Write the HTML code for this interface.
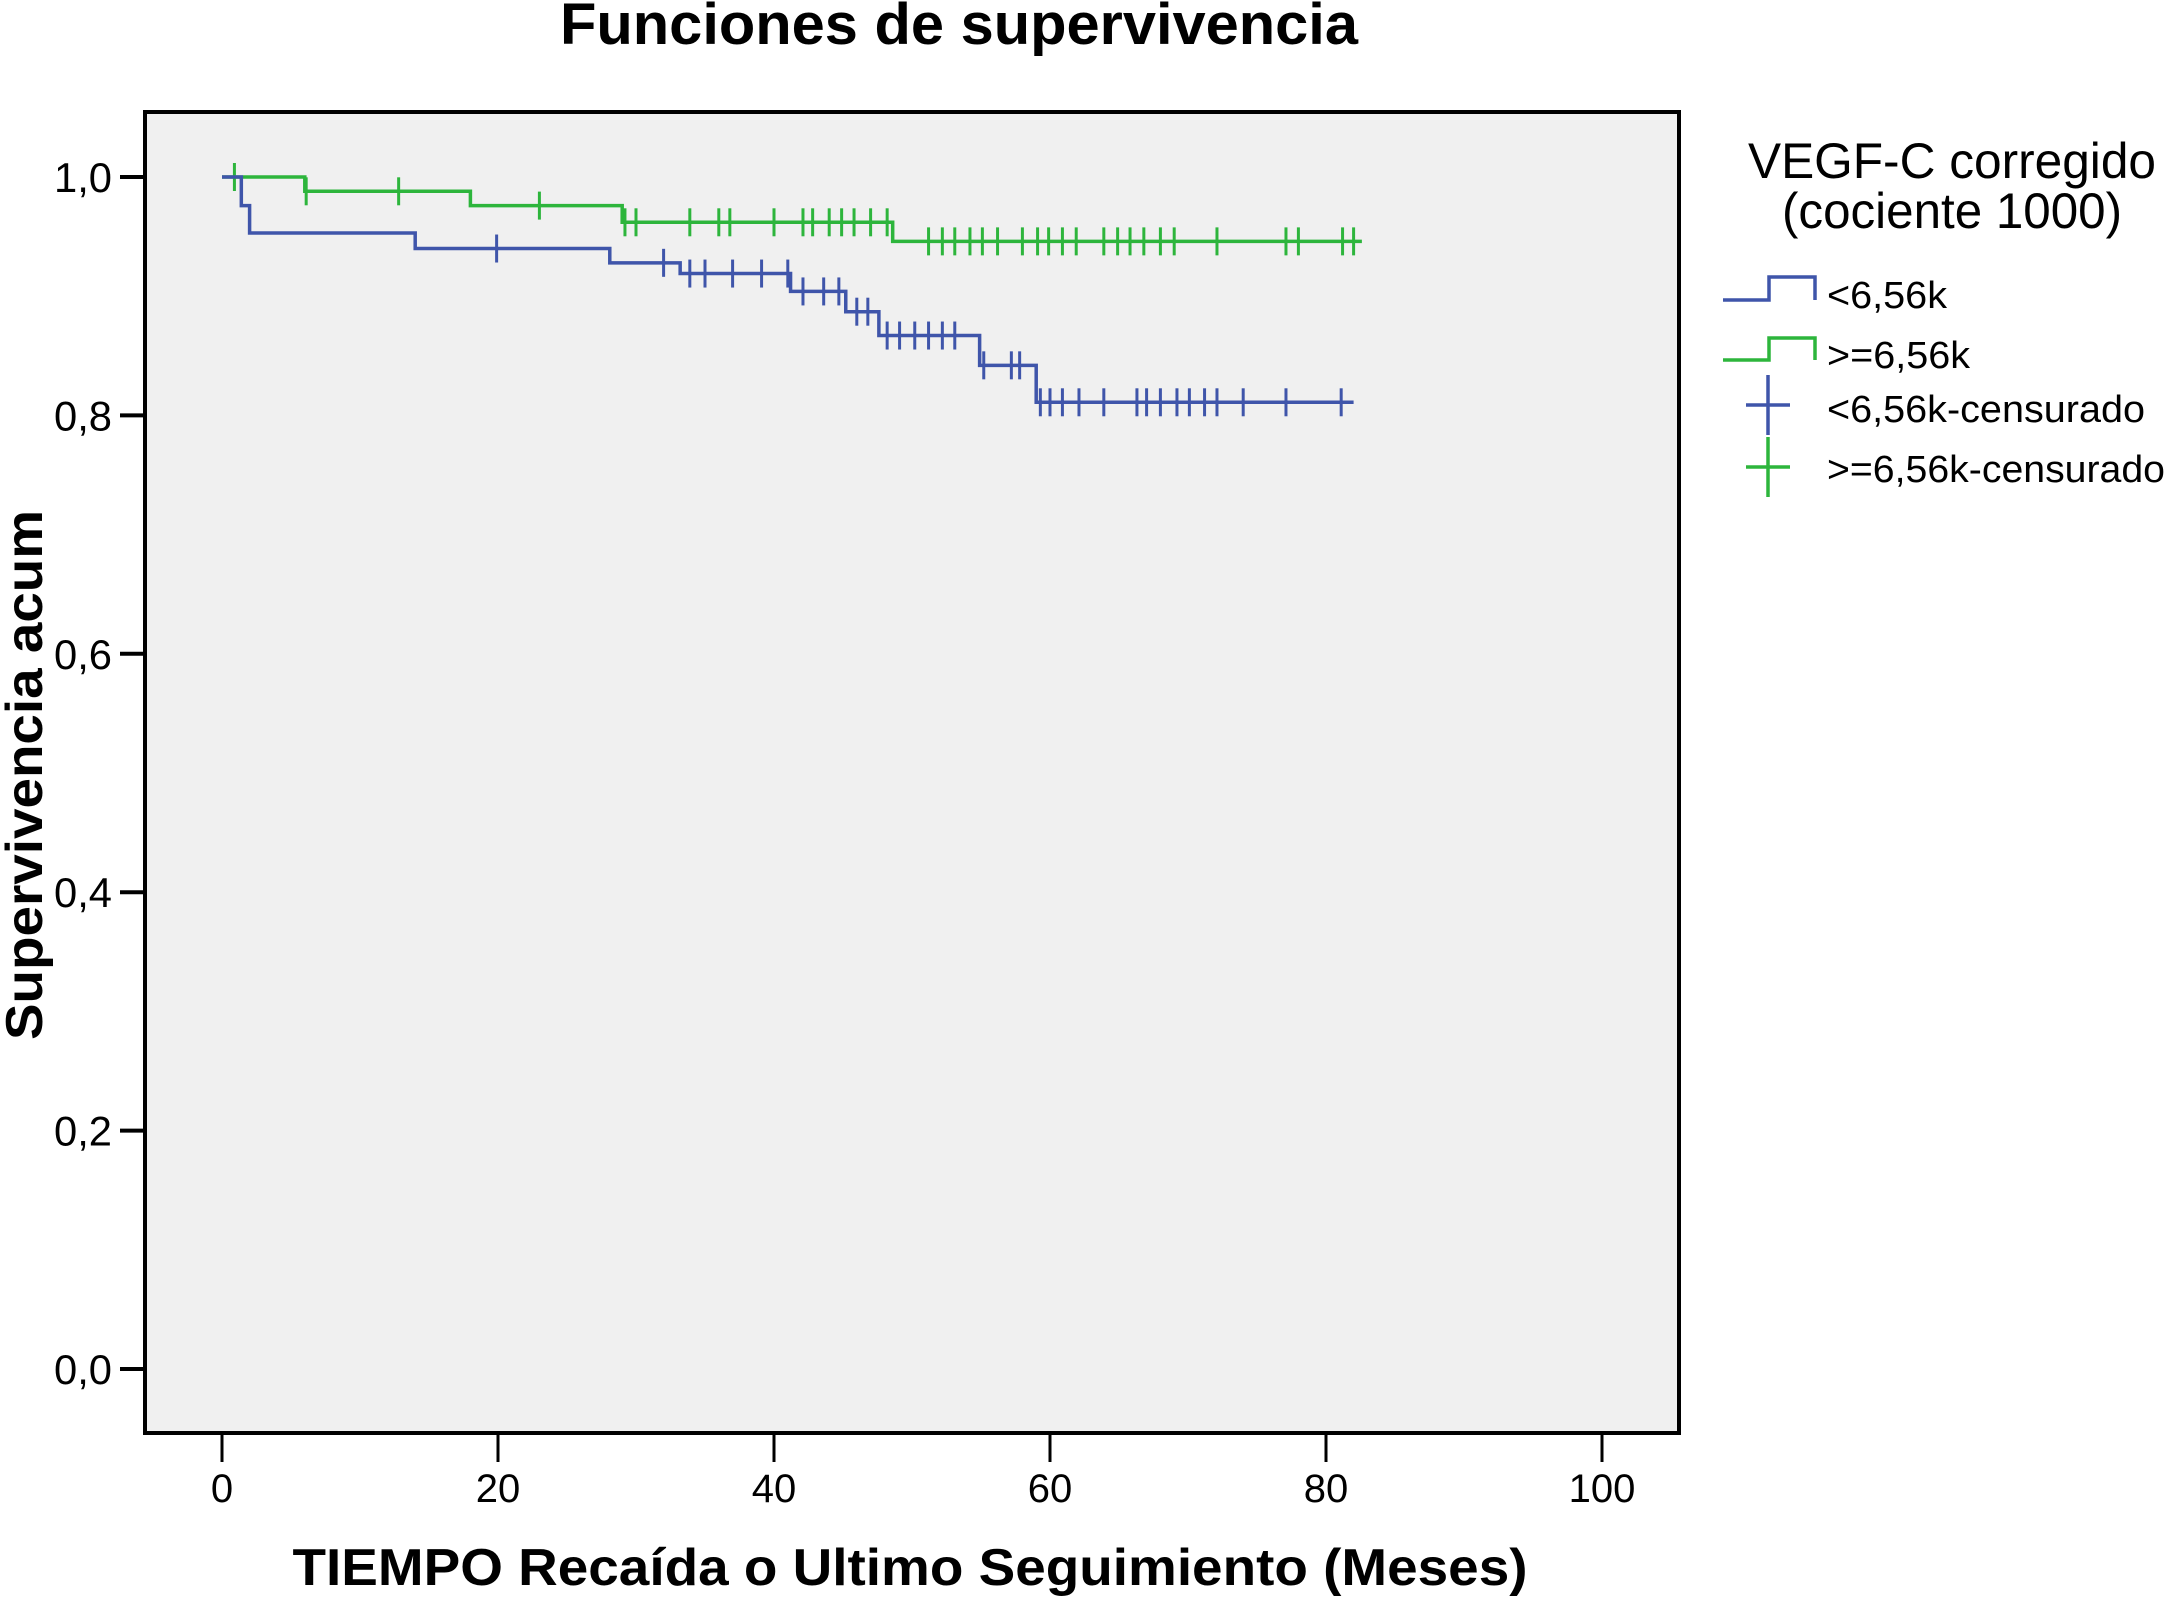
<!DOCTYPE html>
<html><head><meta charset="utf-8"><style>
html,body{margin:0;padding:0;background:#fff;}
svg{display:block;font-family:"Liberation Sans",Arial,sans-serif;}
</style></head><body>
<svg id="chart" width="2167" height="1597" viewBox="0 0 2167 1597" xmlns="http://www.w3.org/2000/svg">
<text x="959" y="44" text-anchor="middle" font-size="58" font-weight="bold" textLength="798" lengthAdjust="spacingAndGlyphs">Funciones de supervivencia</text>
<rect x="145" y="112" width="1534" height="1321" fill="#f0f0f0" stroke="#000" stroke-width="4"/>
<g id="axes"></g>
<g id="series"></g>
<text x="910" y="1585" text-anchor="middle" font-size="52" font-weight="bold" textLength="1235" lengthAdjust="spacingAndGlyphs">TIEMPO Recaída o Ultimo Seguimiento (Meses)</text>
<text transform="translate(42,775) rotate(-90)" text-anchor="middle" font-size="52" font-weight="bold" textLength="530" lengthAdjust="spacingAndGlyphs">Supervivencia acum</text>
<g>
<text x="1952" y="178" text-anchor="middle" font-size="50" textLength="408" lengthAdjust="spacingAndGlyphs">VEGF-C corregido</text>
<text x="1952" y="228" text-anchor="middle" font-size="50" textLength="340" lengthAdjust="spacingAndGlyphs">(cociente 1000)</text>
<path d="M1723 300 H1769 V277 H1815 V300" fill="none" stroke="#3f55aa" stroke-width="3.5"/>
<text x="1827" y="308" font-size="38" textLength="120" lengthAdjust="spacingAndGlyphs">&lt;6,56k</text>
<path d="M1723 360 H1769 V338 H1815 V360" fill="none" stroke="#2db53c" stroke-width="3.5"/>
<text x="1827" y="368" font-size="38" textLength="143" lengthAdjust="spacingAndGlyphs">&gt;=6,56k</text>
<path d="M1746 405 H1790 M1768 375 V435" stroke="#3f55aa" stroke-width="3.5"/>
<text x="1827" y="422" font-size="38" textLength="318" lengthAdjust="spacingAndGlyphs">&lt;6,56k-censurado</text>
<path d="M1746 467 H1790 M1768 437 V497" stroke="#2db53c" stroke-width="3.5"/>
<text x="1827" y="482" font-size="38" textLength="338" lengthAdjust="spacingAndGlyphs">&gt;=6,56k-censurado</text>
</g>
</svg>
<script>
const xTicks=[0,20,40,60,80,100];
const yTicks=[0,0.2,0.4,0.6,0.8,1.0];
const yTickLabels=["0,0","0,2","0,4","0,6","0,8","1,0"];
const blueTimes=[0,1.4,2,14,28.1,33.2,41.2,45.2,47.6,54.9,59];
const blueSurv=[1.0,0.976,0.953,0.940,0.928,0.919,0.904,0.887,0.867,0.842,0.811];
const blueEnd=82;
const blueCens=[19.9,32,33.9,35,37,39.1,41,42.1,43.6,44.7,46,46.8,48.2,49.1,50.2,51.2,52.2,53.1,55.2,57.2,57.8,59.3,60,60.9,62.1,63.9,66.3,67,68,69.2,70.1,71.2,72.1,74,77.1,81.1];
const greenTimes=[0,6,18,29,48.6];
const greenSurv=[1.0,0.988,0.976,0.962,0.946];
const greenEnd=82.6;
const greenCens=[0.9,6.1,12.8,23,29.2,30,33.9,36,36.8,40,42.1,42.8,44,44.9,45.8,47,48.2,51.2,52.2,53.1,54.2,55.1,56.2,58,59.1,59.9,60.9,61.9,63.9,64.9,65.8,66.8,68,69,72.1,77.1,78,81.2,82];
const NS='http://www.w3.org/2000/svg';
const X=t=>222+t*13.8;
const Y=s=>1369-s*1192;
function mk(tag,attrs,parent){const e=document.createElementNS(NS,tag);for(const k in attrs)e.setAttribute(k,attrs[k]);parent.appendChild(e);return e;}
const axes=document.getElementById('axes');
xTicks.forEach(t=>{
 const l=mk('line',{x1:X(t),x2:X(t),y1:1433,y2:1462,stroke:'#000','stroke-width':3},axes);
 
 
 const tx=mk('text',{x:X(t),y:1502,'text-anchor':'middle','font-size':40},axes);
 
 
 tx.textContent=String(t);
});
yTicks.forEach((v,i)=>{
 const l=mk('line',{x1:120,x2:145,y1:Y(v),y2:Y(v),stroke:'#000','stroke-width':4},axes);
 
 
 const tx=mk('text',{x:112,y:Y(v)+15,'text-anchor':'end','font-size':42,textLength:58,lengthAdjust:'spacingAndGlyphs'},axes);
 
 
 tx.textContent=yTickLabels[i];
});
const series=document.getElementById('series');
function survAt(times,surv,t){let s=surv[0];for(let i=0;i<times.length;i++){if(times[i]<=t)s=surv[i];}return s;}
function drawSeries(times,surv,end,cens,color,name){
 let d='M'+X(times[0])+' '+Y(surv[0]);
 for(let i=1;i<times.length;i++){d+=' H'+X(times[i])+' V'+Y(surv[i]);}
 d+=' H'+X(end);
 const p=mk('path',{d:d,fill:'none',stroke:color,'stroke-width':3.5},series);
 
 
 cens.forEach(t=>{
  const y=Y(survAt(times,surv,t));
  const c=mk('line',{x1:X(t),x2:X(t),y1:y-14,y2:y+14,stroke:color,'stroke-width':3},series);
  
  
 });
}
drawSeries(greenTimes,greenSurv,greenEnd,greenCens,'#2db53c','high-group');
drawSeries(blueTimes,blueSurv,blueEnd,blueCens,'#3f55aa','low-group');
</script>
</body></html>
